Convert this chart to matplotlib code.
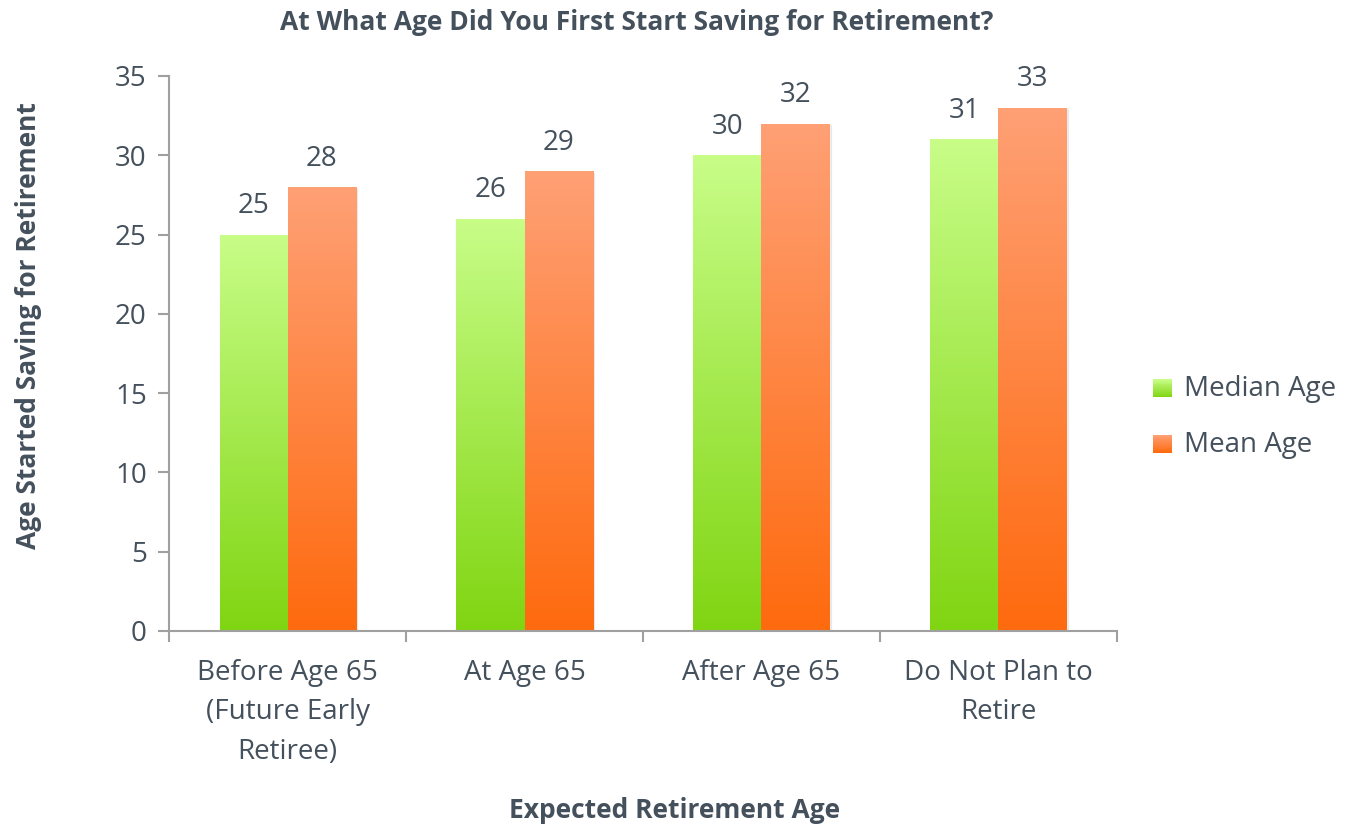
import numpy as np
import matplotlib.pyplot as plt
from matplotlib.colors import LinearSegmentedColormap
from matplotlib.patches import Rectangle
from matplotlib.legend_handler import HandlerBase

plt.rcParams['font.family'] = ['Open Sans', 'DejaVu Sans']

categories = ['Before Age 65\n(Future Early\nRetiree)', 'At Age 65', 'After Age 65', 'Do Not Plan to\nRetire']
median_age = [25, 26, 30, 31]
mean_age = [28, 29, 32, 33]
series_names = ['Median Age', 'Mean Age']

text_col = '#44505c'
green_cmap = LinearSegmentedColormap.from_list('g', ['#80d512', '#c8fd88'])
orange_cmap = LinearSegmentedColormap.from_list('o', ['#ff6a0e', '#fea075'])

fig = plt.figure(figsize=(13.49, 8.25), dpi=100)
ax = fig.add_axes([0.1253, 0.2352, 0.7027, 0.6727])

x = np.arange(len(categories))
w = 0.287
grad = np.linspace(0, 1, 256).reshape(-1, 1)


def gradient_bars(xs, vals, cmap):
    bars = ax.bar(xs, vals, w, color='none', edgecolor='none')
    for b in bars:
        x0, y0 = b.get_x(), b.get_y()
        bw, bh = b.get_width(), b.get_height()
        # soft shadow
        ax.add_patch(Rectangle((x0 + 0.008, y0), bw, bh - 0.1, color='#000000', alpha=0.06, zorder=1))
        im = ax.imshow(grad, cmap=cmap, aspect='auto', origin='lower',
                       extent=[x0, x0 + bw, y0, y0 + bh], zorder=2)
        im.set_clip_path(b)
    return bars


b1 = gradient_bars(x - w / 2, median_age, green_cmap)
b2 = gradient_bars(x + w / 2, mean_age, orange_cmap)

for bars, vals in ((b1, median_age), (b2, mean_age)):
    for b, v in zip(bars, vals):
        ax.text(b.get_x() + b.get_width() / 2, v + 0.9, str(v), ha='center', va='bottom',
                fontsize=20, color=text_col)

ax.set_xlim(-0.5, len(categories) - 0.5)
ax.set_ylim(0, 35)
ax.set_yticks(range(0, 36, 5))
ax.set_xticks(x)
ax.set_xticklabels(categories, fontsize=20, color=text_col, linespacing=1.55)
ax.set_xticks(np.arange(-0.5, len(categories), 1), minor=True)
ax.tick_params(axis='x', which='major', length=0, pad=20)
ax.tick_params(axis='x', which='minor', length=8, color='#a0a0a0', width=1.5)
ax.tick_params(axis='y', length=8, color='#a0a0a0', width=1.5, labelsize=20, labelcolor=text_col, pad=8)
for s in ('top', 'right'):
    ax.spines[s].set_visible(False)
for s in ('left', 'bottom'):
    ax.spines[s].set_color('#a0a0a0')
    ax.spines[s].set_linewidth(1.5)

fig.text(0.472, 0.973, 'At What Age Did You First Start Saving for Retirement?', fontsize=19,
         fontweight='bold', color=text_col, ha='center', va='center')
fig.text(0.021, 0.605, 'Age Started Saving for Retirement', fontsize=19, fontweight='bold',
         color=text_col, ha='center', va='center', rotation=90)
fig.text(0.50, 0.018, 'Expected Retirement Age', fontsize=19, fontweight='bold',
         color=text_col, ha='center', va='center')


class GradHandler(HandlerBase):
    def __init__(self, cmap):
        super().__init__()
        self.cmap = cmap

    def create_artists(self, legend, orig, xd, yd, width, height, fontsize, trans):
        n = 20
        side = height * 0.95
        x0 = xd + width - side
        arts = []
        for i in range(n):
            r = Rectangle((x0, yd + i * side / n - 0.05 * height), side, side / n + 0.05,
                          facecolor=self.cmap(i / (n - 1)), edgecolor='none', transform=trans)
            arts.append(r)
        return arts


h1 = Rectangle((0, 0), 1, 1)
h2 = Rectangle((0, 0), 1, 1)
ax.legend([h1, h2], series_names, handler_map={h1: GradHandler(green_cmap), h2: GradHandler(orange_cmap)},
          loc='center left', bbox_to_anchor=(1.008, 0.385), frameon=False, fontsize=20,
          labelcolor=text_col, handlelength=0.8, handletextpad=0.45, labelspacing=1.0)

fig.savefig('out.png', dpi=100)
